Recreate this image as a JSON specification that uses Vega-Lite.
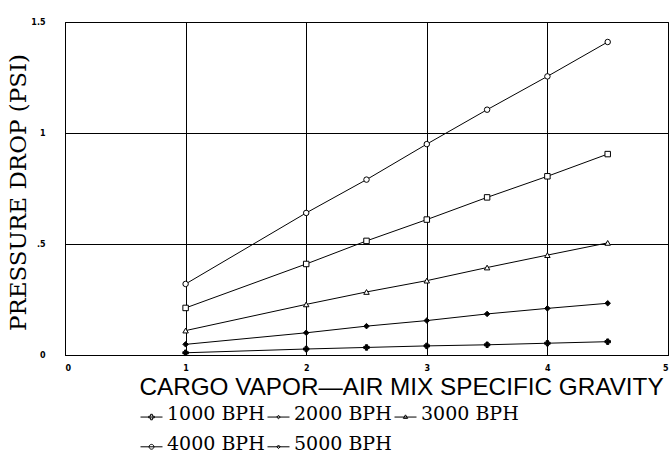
{
  "$schema": "https://vega.github.io/schema/vega-lite/v6.json",
  "width": 603,
  "height": 333,
  "autosize": "none",
  "padding": {"left": 65, "top": 22, "right": 3, "bottom": 104},
  "background": "white",
  "config": {
    "view": {"stroke": "black", "strokeWidth": 1},
    "axis": {
      "domainColor": "black",
      "gridColor": "black",
      "gridOpacity": 1,
      "gridWidth": 1,
      "ticks": false,
      "labelFont": "DejaVu Sans",
      "labelFontSize": 8,
      "labelFontWeight": "bold",
      "labelColor": "black",
      "titleColor": "black",
      "titleFontWeight": "normal"
    }
  },
  "data": {
    "values": [
      {"series": "1000 BPH", "sg": 1, "psi": 0.01},
      {"series": "1000 BPH", "sg": 2, "psi": 0.027},
      {"series": "1000 BPH", "sg": 2.5, "psi": 0.034},
      {"series": "1000 BPH", "sg": 3, "psi": 0.041},
      {"series": "1000 BPH", "sg": 3.5, "psi": 0.046},
      {"series": "1000 BPH", "sg": 4, "psi": 0.053},
      {"series": "1000 BPH", "sg": 4.5, "psi": 0.06},
      {"series": "2000 BPH", "sg": 1, "psi": 0.048},
      {"series": "2000 BPH", "sg": 2, "psi": 0.1},
      {"series": "2000 BPH", "sg": 2.5, "psi": 0.13},
      {"series": "2000 BPH", "sg": 3, "psi": 0.155},
      {"series": "2000 BPH", "sg": 3.5, "psi": 0.185},
      {"series": "2000 BPH", "sg": 4, "psi": 0.21},
      {"series": "2000 BPH", "sg": 4.5, "psi": 0.233},
      {"series": "3000 BPH", "sg": 1, "psi": 0.11},
      {"series": "3000 BPH", "sg": 2, "psi": 0.228},
      {"series": "3000 BPH", "sg": 2.5, "psi": 0.284},
      {"series": "3000 BPH", "sg": 3, "psi": 0.335},
      {"series": "3000 BPH", "sg": 3.5, "psi": 0.394},
      {"series": "3000 BPH", "sg": 4, "psi": 0.45},
      {"series": "3000 BPH", "sg": 4.5, "psi": 0.505},
      {"series": "4000 BPH", "sg": 1, "psi": 0.212},
      {"series": "4000 BPH", "sg": 2, "psi": 0.41},
      {"series": "4000 BPH", "sg": 2.5, "psi": 0.514},
      {"series": "4000 BPH", "sg": 3, "psi": 0.61},
      {"series": "4000 BPH", "sg": 3.5, "psi": 0.71},
      {"series": "4000 BPH", "sg": 4, "psi": 0.805},
      {"series": "4000 BPH", "sg": 4.5, "psi": 0.905},
      {"series": "5000 BPH", "sg": 1, "psi": 0.32},
      {"series": "5000 BPH", "sg": 2, "psi": 0.64},
      {"series": "5000 BPH", "sg": 2.5, "psi": 0.79},
      {"series": "5000 BPH", "sg": 3, "psi": 0.95},
      {"series": "5000 BPH", "sg": 3.5, "psi": 1.105},
      {"series": "5000 BPH", "sg": 4, "psi": 1.255},
      {"series": "5000 BPH", "sg": 4.5, "psi": 1.41}
    ]
  },
  "encoding": {
    "x": {
      "field": "sg",
      "type": "quantitative",
      "scale": {"domain": [0, 5], "nice": false},
      "axis": {
        "values": [0, 1, 2, 3, 4, 5],
        "labelPadding": 9,
        "title": "CARGO VAPOR—AIR MIX SPECIFIC GRAVITY",
        "titleFont": "Liberation Sans",
        "titleFontSize": 24.3,
        "titleX": 336,
        "titleY": 32,
        "titleBaseline": "middle",
        "titleAnchor": null,
        "titleAlign": "center"
      }
    },
    "y": {
      "field": "psi",
      "type": "quantitative",
      "scale": {"domain": [0, 1.5], "nice": false},
      "axis": {
        "values": [0, 0.5, 1, 1.5],
        "labelExpr": "datum.value == 0.5 ? '.5' : datum.value == 1.5 ? '1.5' : datum.value == 1 ? '1' : '0'",
        "labelPadding": 20,
        "title": "PRESSURE DROP (PSI)",
        "titleFont": "DejaVu Serif",
        "titleFontSize": 23,
        "titleX": -47,
        "titleY": 170,
        "titleAngle": -90,
        "titleBaseline": "middle",
        "titleAlign": "center"
      }
    }
  },
  "resolve": {"scale": {"shape": "independent", "fill": "independent"}, "legend": {"shape": "independent", "fill": "independent"}},
  "layer": [
    {
      "mark": {"type": "line", "color": "black", "strokeWidth": 1},
      "encoding": {"detail": {"field": "series"}}
    },
    {
      "mark": {"type": "point", "filled": true, "stroke": "black", "strokeWidth": 1, "size": 30, "opacity": 1},
      "encoding": {
        "shape": {
          "field": "series",
          "type": "nominal",
          "scale": {
            "domain": ["1000 BPH", "2000 BPH", "3000 BPH", "4000 BPH", "5000 BPH"],
            "range": ["cross", "diamond", "triangle-up", "square", "circle"]
          },
          "legend": null
        },
        "fill": {
          "field": "series",
          "type": "nominal",
          "scale": {
            "domain": ["1000 BPH", "2000 BPH", "3000 BPH", "4000 BPH", "5000 BPH"],
            "range": ["black", "black", "white", "white", "white"]
          },
          "legend": null
        }
      }
    },
    {
      "transform": [{"filter": "datum.psi > 100"}],
      "mark": {"type": "point", "filled": false, "color": "black", "strokeWidth": 1, "opacity": 1},
      "encoding": {
        "shape": {
          "field": "series",
          "type": "nominal",
          "scale": {
            "domain": ["1000 BPH", "2000 BPH", "3000 BPH", "4000 BPH", "5000 BPH"],
            "range": [
              "M-1,0.3H1M-0.25,0.22H-0.08V0.05H0.08V0.22H0.25V0.38H0.08V0.55H-0.08V0.38H-0.25Z",
              "M-1,0.3H1M0,0.14L0.16,0.3L0,0.46L-0.16,0.3Z",
              "M-1,0.3H1M0,0.1L0.2,0.42L-0.2,0.42Z",
              "M-1,0.3H1M0.22,0.3A0.22,0.22,0,1,1,-0.22,0.3A0.22,0.22,0,1,1,0.22,0.3Z",
              "M-1,0.3H1M0,0.14L0.16,0.3L0,0.46L-0.16,0.3Z"
            ]
          },
          "legend": {
            "orient": "none",
            "legendX": 75,
            "legendY": 380,
            "direction": "horizontal",
            "columns": 3,
            "columnPadding": 0,
            "rowPadding": 8,
            "title": null,
            "symbolSize": 484,
            "symbolStrokeWidth": 1,
            "symbolStrokeColor": "black",
            "symbolFillColor": "white",
            "labelFont": "DejaVu Serif",
            "labelFontSize": 19,
            "labelColor": "black",
            "labelOffset": 4
          }
        }
      }
    }
  ]
}
